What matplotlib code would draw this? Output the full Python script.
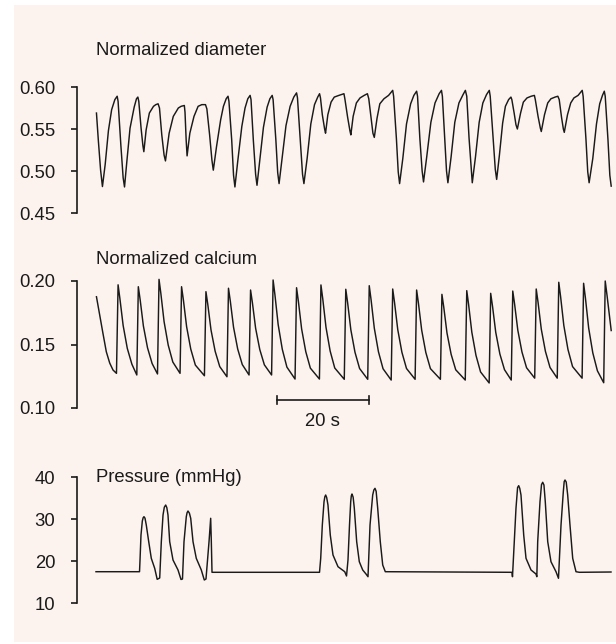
import matplotlib
matplotlib.use("Agg")
import matplotlib.pyplot as plt
from matplotlib.patches import Rectangle

W, H = 616, 644
plt.rcParams['font.family'] = ['Liberation Sans', 'DejaVu Sans']

# ---- recorded traces: (time in s, value) ----
diameter = [
    (0.1, 0.569), (0.5, 0.537), (1.0, 0.501), (1.4, 0.4815),
    (2.0, 0.508), (2.7, 0.548), (3.4, 0.573), (4.1, 0.585), (4.6, 0.589),
    (4.8, 0.583), (5.4, 0.531), (5.9, 0.492), (6.2, 0.481),
    (6.7, 0.511), (7.4, 0.551), (8.3, 0.576), (8.8, 0.586), (9.1, 0.588),
    (9.3, 0.583), (9.8, 0.551), (10.2, 0.530), (10.4, 0.523),
    (10.9, 0.549), (11.6, 0.569), (12.5, 0.577), (13.0, 0.579), (13.5, 0.580),
    (13.8, 0.575), (14.3, 0.543), (14.8, 0.519), (15.1, 0.512),
    (15.9, 0.545), (16.8, 0.565), (17.9, 0.575), (18.5, 0.577), (19.2, 0.578),
    (19.35, 0.570), (19.6, 0.537), (19.8, 0.518),
    (20.4, 0.545), (21.3, 0.565), (22.2, 0.577), (23.0, 0.579), (23.8, 0.579),
    (24.1, 0.574), (24.7, 0.543), (25.2, 0.513), (25.5, 0.501),
    (26.2, 0.529), (27.1, 0.561), (27.7, 0.577), (28.3, 0.586), (28.7, 0.589),
    (28.9, 0.583), (29.5, 0.537), (29.9, 0.495), (30.2, 0.481),
    (30.8, 0.511), (31.7, 0.553), (32.4, 0.575), (33.0, 0.586), (33.5, 0.590),
    (33.7, 0.585), (34.2, 0.537), (34.7, 0.496), (35.0, 0.483),
    (35.6, 0.513), (36.4, 0.552), (37.2, 0.576), (37.8, 0.586), (38.3, 0.590),
    (38.5, 0.585), (39.1, 0.537), (39.5, 0.498), (39.8, 0.485),
    (40.4, 0.513), (41.3, 0.554), (42.2, 0.577), (43.0, 0.588), (43.6, 0.593),
    (43.8, 0.587), (44.4, 0.537), (44.9, 0.496), (45.2, 0.485),
    (45.9, 0.515), (46.7, 0.556), (47.5, 0.579), (48.2, 0.588), (48.6, 0.592),
    (48.8, 0.587), (49.2, 0.567), (49.7, 0.550), (49.9, 0.545),
    (50.4, 0.567), (51.1, 0.582), (51.8, 0.588), (52.8, 0.590), (53.9, 0.592),
    (54.1, 0.586), (54.7, 0.564), (55.2, 0.548), (55.4, 0.543),
    (55.9, 0.565), (56.6, 0.581), (57.4, 0.587), (58.3, 0.590), (59.0, 0.592),
    (59.3, 0.586), (59.8, 0.563), (60.2, 0.545), (60.5, 0.540),
    (61.1, 0.563), (61.7, 0.580), (62.6, 0.586), (63.6, 0.590), (64.5, 0.596),
    (64.7, 0.589), (65.3, 0.539), (65.7, 0.499), (66.0, 0.485),
    (66.7, 0.515), (67.5, 0.556), (68.4, 0.580), (69.1, 0.590), (69.7, 0.595),
    (69.9, 0.589), (70.4, 0.539), (70.9, 0.500), (71.2, 0.487),
    (71.9, 0.517), (72.8, 0.558), (73.7, 0.581), (74.6, 0.592), (75.1, 0.596),
    (75.3, 0.589), (75.8, 0.539), (76.2, 0.500), (76.5, 0.486),
    (77.2, 0.517), (78.0, 0.558), (78.9, 0.581), (79.8, 0.591), (80.3, 0.596),
    (80.6, 0.589), (81.1, 0.539), (81.6, 0.500), (81.8, 0.486),
    (82.5, 0.517), (83.3, 0.558), (84.1, 0.581), (84.9, 0.591), (85.5, 0.596),
    (85.7, 0.589), (86.3, 0.542), (86.8, 0.502), (87.1, 0.490),
    (87.7, 0.519), (88.4, 0.557), (89.0, 0.577), (89.7, 0.585), (90.2, 0.588),
    (90.4, 0.585), (90.9, 0.569), (91.3, 0.555), (91.6, 0.550),
    (92.3, 0.569), (92.9, 0.582), (93.7, 0.587), (94.6, 0.589), (95.3, 0.590),
    (95.5, 0.585), (96.1, 0.565), (96.6, 0.551), (96.8, 0.547),
    (97.5, 0.567), (98.2, 0.581), (98.9, 0.586), (99.8, 0.588), (100.4, 0.589),
    (100.7, 0.585), (101.2, 0.564), (101.6, 0.550), (101.8, 0.546),
    (102.5, 0.567), (103.2, 0.581), (103.9, 0.587), (104.8, 0.590), (105.7, 0.596),
    (105.9, 0.589), (106.5, 0.539), (106.9, 0.499), (107.2, 0.486),
    (108.0, 0.515), (108.8, 0.556), (109.5, 0.580), (110.1, 0.590), (110.5, 0.595),
    (110.7, 0.589), (111.3, 0.537), (111.7, 0.495), (112.0, 0.482),
]

calcium = [
    (0.1, 0.1876), (0.8, 0.1732), (1.5, 0.159), (2.24, 0.1443), (2.98, 0.1354), (3.7, 0.1299), (4.45, 0.1273),
    (4.8, 0.197), (5.2, 0.186), (5.9, 0.165), (6.8, 0.147), (7.8, 0.1345), (8.87, 0.126),
    (9.2, 0.1955), (9.6, 0.1852), (10.3, 0.1646), (11.2, 0.1474), (12.2, 0.135), (13.37, 0.1268),
    (13.7, 0.2013), (14.1, 0.1902), (14.8, 0.168), (15.7, 0.1495), (16.7, 0.1362), (18.27, 0.1273),
    (18.6, 0.1955), (19.0, 0.185), (19.7, 0.164), (20.6, 0.1464), (21.6, 0.1338), (23.57, 0.1254),
    (23.9, 0.1916), (24.3, 0.1816), (25.0, 0.1615), (25.9, 0.1447), (26.9, 0.1326), (28.47, 0.1246),
    (28.8, 0.1943), (29.2, 0.1841), (29.9, 0.1636), (30.8, 0.1465), (31.8, 0.1342), (33.27, 0.126),
    (33.6, 0.1929), (34.0, 0.1829), (34.7, 0.1628), (35.6, 0.1461), (36.6, 0.134), (38.17, 0.126),
    (38.5, 0.2008), (38.9, 0.1891), (39.6, 0.1657), (40.5, 0.1462), (41.5, 0.1322), (43.27, 0.1228),
    (43.6, 0.1947), (44.0, 0.1839), (44.7, 0.1623), (45.6, 0.1444), (46.6, 0.1314), (48.57, 0.1228),
    (48.9, 0.1969), (49.3, 0.1858), (50.0, 0.1635), (50.9, 0.1449), (51.9, 0.1315), (53.97, 0.1226),
    (54.3, 0.1935), (54.7, 0.1829), (55.4, 0.1616), (56.3, 0.1439), (57.3, 0.1311), (59.07, 0.1226),
    (59.4, 0.1963), (59.8, 0.1852), (60.5, 0.1629), (61.4, 0.1443), (62.4, 0.1309), (64.17, 0.122),
    (64.5, 0.1937), (64.9, 0.183), (65.6, 0.1617), (66.5, 0.1439), (67.5, 0.1311), (69.37, 0.1226),
    (69.7, 0.1929), (70.1, 0.1824), (70.8, 0.1613), (71.7, 0.1437), (72.7, 0.131), (74.87, 0.1226),
    (75.2, 0.1895), (75.6, 0.1794), (76.3, 0.1591), (77.2, 0.1423), (78.2, 0.1301), (80.27, 0.122),
    (80.6, 0.1924), (81.0, 0.1815), (81.7, 0.1597), (82.6, 0.1415), (83.6, 0.1284), (85.47, 0.1197),
    (85.8, 0.1903), (86.2, 0.1801), (86.9, 0.1596), (87.8, 0.1425), (88.8, 0.1302), (90.27, 0.122),
    (90.6, 0.1921), (91.0, 0.1818), (91.7, 0.1612), (92.6, 0.1441), (93.6, 0.1317), (95.37, 0.1235),
    (95.7, 0.1937), (96.1, 0.1832), (96.8, 0.1621), (97.7, 0.1446), (98.7, 0.1319), (100.27, 0.1235),
    (100.6, 0.199), (101.0, 0.1877), (101.7, 0.165), (102.6, 0.1461), (103.6, 0.1326), (105.67, 0.1235),
    (106.0, 0.1982), (106.4, 0.1865), (107.1, 0.163), (108.0, 0.1434), (109.0, 0.1293), (110.37, 0.1199),
    (110.7, 0.2), (111.1, 0.1885), (112.0, 0.161),
]

pressure = [
    (0.0, 17.45), (9.46, 17.45),
    (9.57, 20.24), (9.78, 26.19), (10.07, 29.52), (10.25, 30.3), (10.43, 30.55), (10.65, 30.2),
    (10.93, 28.57), (11.46, 24.6), (12.02, 20.64), (12.76, 18.26), (13.3, 15.64),
    (13.85, 15.95), (14.2, 24.6), (14.57, 30.95), (14.85, 32.8), (15.15, 33.33), (15.4, 32.7),
    (15.65, 30.95), (16.02, 24.6), (16.74, 20.24), (17.83, 17.86), (18.48, 15.6),
    (18.8, 15.71), (19.13, 24.6), (19.63, 30.55), (19.8, 31.5), (20.0, 31.9), (20.3, 31.4),
    (20.59, 30.17), (21.09, 24.6), (21.8, 20.64), (22.89, 17.86), (23.54, 15.48),
    (23.91, 15.71), (24.57, 24.6), (24.93, 30.17), (25.07, 24.6), (25.22, 17.31),
    (48.59, 17.31),
    (48.85, 20.64), (49.2, 28.57), (49.57, 34.12), (49.75, 35.3), (49.93, 35.71), (50.15, 35.1),
    (50.43, 33.33), (50.93, 26.19), (51.52, 21.43), (52.61, 18.64), (54.07, 17.45), (54.46, 16.43),
    (54.78, 20.24), (55.11, 28.57), (55.37, 34.12), (55.5, 35.5), (55.65, 35.95), (55.9, 35.2),
    (56.15, 32.62), (56.67, 24.6), (57.24, 19.83), (57.98, 17.86), (58.7, 16.9), (59.13, 16.26),
    (59.57, 28.57), (60.15, 35.71), (60.4, 36.9), (60.65, 37.31), (60.9, 36.6), (61.24, 32.55),
    (61.8, 24.6), (62.33, 19.05), (62.89, 17.45),
    (90.43, 17.31), (90.54, 16.26),
    (90.93, 24.6), (91.3, 32.55), (91.65, 37.5), (91.89, 37.93), (92.12, 37.3), (92.39, 35.71),
    (92.98, 26.19), (93.48, 20.64), (94.57, 17.86), (95.65, 16.9), (95.83, 16.26),
    (96.02, 24.6), (96.52, 34.12), (96.85, 38.2), (97.11, 38.74), (97.38, 38.1), (97.67, 34.12),
    (98.2, 24.6), (98.91, 19.83), (100.0, 17.45), (100.54, 15.88),
    (101.09, 28.57), (101.59, 36.5), (101.78, 38.9), (101.96, 39.29), (102.22, 38.8), (102.54, 35.71),
    (103.04, 28.57), (103.63, 20.64), (104.35, 17.45), (105.07, 17.31),
    (111.96, 17.38),
]

diameter_ticks = [0.45, 0.50, 0.55, 0.60]
calcium_ticks = [0.10, 0.15, 0.20]
pressure_ticks = [10, 20, 30, 40]

titles = ["Normalized diameter", "Normalized calcium", "Pressure (mmHg)"]
scale_bar_seconds = 20
scale_bar_label = "20 s"

# ---- layout ----
BG = "#fcf3ee"
INK = "#1a1a1a"
FS = 13.3

fig = plt.figure(figsize=(W / 100, H / 100), dpi=100, facecolor="white")
fig.patches.append(Rectangle((14 / W, 2 / H), 1 - 14 / W, (H - 7) / H,
                             transform=fig.transFigure, facecolor=BG,
                             edgecolor="none", zorder=-10))

PX_PER_S = 4.6
X0 = 96
LEFT, RIGHT = 77, 616
XLIM = ((LEFT - X0) / PX_PER_S, (RIGHT - X0) / PX_PER_S)


def trace_axes(top, bottom, ylim, ticks, fmt):
    ax = fig.add_axes([LEFT / W, (H - bottom) / H, (RIGHT - LEFT) / W, (bottom - top) / H])
    ax.set_facecolor("none")
    ax.set_xlim(*XLIM)
    ax.set_ylim(*ylim)
    for s in ("top", "right", "bottom"):
        ax.spines[s].set_visible(False)
    ax.spines["left"].set_linewidth(1.2)
    ax.spines["left"].set_color(INK)
    ax.set_xticks([])
    ax.set_yticks(ticks)
    ax.set_yticklabels([fmt.format(t) for t in ticks])
    ax.tick_params(axis="y", direction="out", length=4.5, width=1.2,
                   color=INK, pad=11, labelsize=FS, labelcolor=INK)
    return ax


def draw(ax, series):
    t = [p[0] for p in series]
    v = [p[1] for p in series]
    ax.plot(t, v, color=INK, lw=1.05, clip_on=False, solid_joinstyle="round")


ax_d = trace_axes(87, 213, (0.45, 0.60), diameter_ticks, "{:.2f}")
draw(ax_d, diameter)

ax_c = trace_axes(281, 408, (0.10, 0.20), calcium_ticks, "{:.2f}")
draw(ax_c, calcium)

ax_p = trace_axes(477, 603, (10, 40), pressure_ticks, "{:.0f}")
draw(ax_p, pressure)

# panel titles
for ax, title, dy in ((ax_d, titles[0], 37), (ax_c, titles[1], 21), (ax_p, titles[2], 0)):
    bbox = ax.get_position()
    fig.text(X0 / W, bbox.y1 + dy / H, title, ha="left", va="center",
             fontsize=FS, color=INK)

# time scale bar under the calcium trace
bar_start = 39.3
bar_y = 0.1063
cap = 0.0032
ax_c.plot([bar_start, bar_start + scale_bar_seconds], [bar_y, bar_y],
          color=INK, lw=1.2, clip_on=False)
for x in (bar_start, bar_start + scale_bar_seconds):
    ax_c.plot([x, x], [bar_y - cap, bar_y + cap], color=INK, lw=1.2, clip_on=False)
ax_c.text(bar_start + scale_bar_seconds / 2, 0.0892, scale_bar_label,
          ha="center", va="center", fontsize=FS, color=INK)

fig.savefig("out.png", dpi=100, facecolor=fig.get_facecolor())
